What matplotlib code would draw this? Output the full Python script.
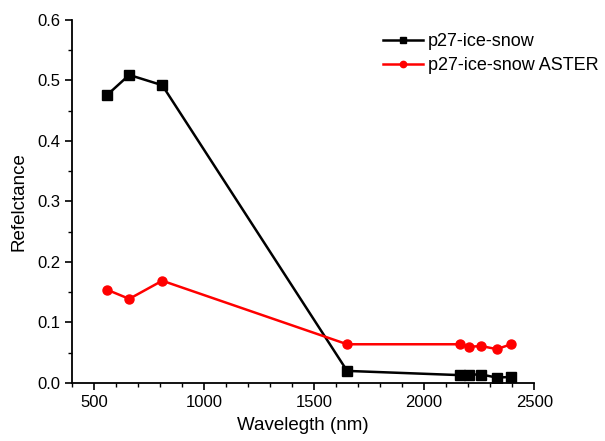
import matplotlib
matplotlib.use("Agg")
import matplotlib.pyplot as plt
from matplotlib.ticker import MultipleLocator

plt.rcParams['font.family'] = ['Liberation Sans', 'DejaVu Sans']

wavelength = [560, 660, 810, 1650, 2165, 2205, 2260, 2330, 2395]
ice_snow = [0.476, 0.509, 0.492, 0.020, 0.013, 0.014, 0.014, 0.009, 0.010]
ice_snow_aster = [0.154, 0.139, 0.169, 0.064, 0.064, 0.060, 0.061, 0.056, 0.064]

fig = plt.figure(figsize=(6.05, 4.41), dpi=100)
ax = fig.add_axes([0.119, 0.1315, 0.764, 0.8235])

ax.plot(wavelength, ice_snow, color='black', marker='s', markersize=6.5, linewidth=1.8,
        label='p27-ice-snow')
ax.plot(wavelength, ice_snow_aster, color='red', marker='o', markersize=6.5, linewidth=1.8,
        label='p27-ice-snow ASTER')

ax.set_xlim(400, 2500)
ax.set_ylim(0, 0.6)
ax.xaxis.set_major_locator(MultipleLocator(500))
ax.xaxis.set_minor_locator(MultipleLocator(100))
ax.yaxis.set_major_locator(MultipleLocator(0.1))
ax.yaxis.set_minor_locator(MultipleLocator(0.05))
ax.yaxis.set_major_formatter(matplotlib.ticker.FormatStrFormatter('%.1f'))

for s in ['top', 'right']:
    ax.spines[s].set_visible(False)
for s in ['left', 'bottom']:
    ax.spines[s].set_linewidth(1.3)
ax.tick_params(which='major', direction='out', length=5, width=1.2, labelsize=12)
ax.tick_params(which='minor', direction='out', length=3, width=1.0)

ax.set_xlabel('Wavelegth (nm)', fontsize=13.5, labelpad=5)
ax.set_ylabel('Refelctance', fontsize=13.5, labelpad=7)

ax.legend(loc='upper left', bbox_to_anchor=(0.633, 0.925), bbox_transform=fig.transFigure,
          frameon=False, fontsize=13, borderpad=0, borderaxespad=0,
          handlelength=2.2, handletextpad=0.28, labelspacing=0.4, markerscale=0.7)

fig.savefig('out.png', dpi=100)
